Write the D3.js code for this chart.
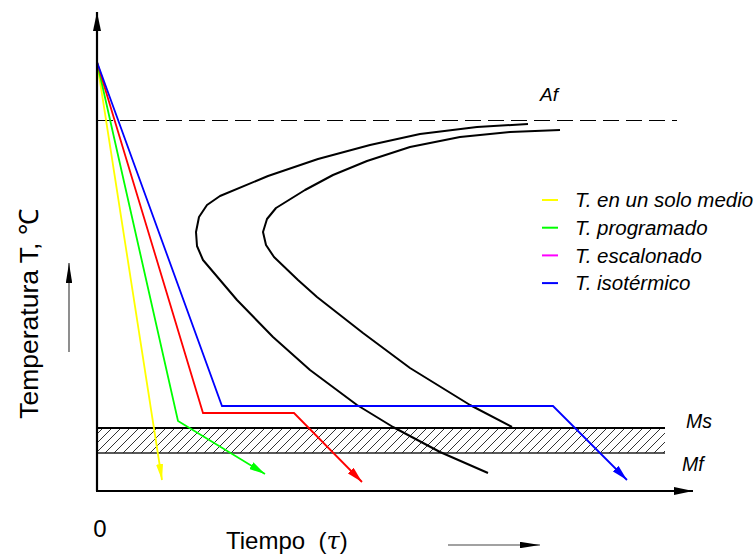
<!DOCTYPE html>
<html>
<head>
<meta charset="utf-8">
<script src="https://cdn.jsdelivr.net/npm/d3@7"></script>
<style>
  html, body { margin: 0; padding: 0; background: #ffffff; }
  svg { display: block; font-family: 'Liberation Sans', Arial, sans-serif; }
</style>
</head>
<body>
<div id="chart"></div>
<script>
// values (time units, temperature units)
const startPoint = [0, 429];
const afLevel = 371;
const msLevel = 63;
const mfLevel = 38;
const afEnd = 580;
const bandEnd = 568;

const yellowPath = [[0, 429], [65, 11]];
const greenPath = [[0, 429], [81, 70], [168, 17]];
const redPath = [[0, 429], [106, 78], [197, 78], [265, 9]];
const bluePath = [[0, 429], [125, 85], [456, 85], [530, 11]];

const startCurve = [
  [431, 367], [380, 364], [323, 357], [273, 346], [221, 332], [171, 315],
  [123, 295], [110, 286], [102, 274], [99, 259], [100, 245], [106, 231],
  [140, 191], [176, 154], [213, 121], [260, 86], [296, 64], [343, 39], [391, 18]
];
const endCurve = [
  [463, 361], [413, 359], [363, 354], [313, 344], [270, 330], [236, 316],
  [208, 301], [179, 283], [170, 272], [166, 259], [169, 246], [177, 234],
  [201, 211], [220, 194], [266, 158], [313, 123], [373, 86], [415, 64]
];

const legendLabels = ['T. en un solo medio', 'T. programado', 'T. escalonado', 'T. isotérmico'];
const legendColors = ['#ffff00', '#00ff00', '#ff00ff', '#0000ff'];

const width = 755, height = 556;

const svg = d3.select('#chart')
  .append('svg')
  .attr('width', width)
  .attr('height', height)
  .attr('viewBox', `0 0 ${width} ${height}`);

const x = d3.scaleLinear().domain([0, 600]).range([97, 697]);
const y = d3.scaleLinear().domain([0, 480]).range([491, 11]);

const defs = svg.append('defs');

function addArrow(id, color, len, hw) {
  defs.append('marker')
    .attr('id', id)
    .attr('markerUnits', 'userSpaceOnUse')
    .attr('viewBox', `0 ${-hw} ${len} ${2 * hw}`)
    .attr('refX', len)
    .attr('refY', 0)
    .attr('markerWidth', len)
    .attr('markerHeight', 2 * hw)
    .attr('orient', 'auto')
    .append('path')
    .attr('d', `M0,${-hw}L${len},0L0,${hw}Z`)
    .attr('fill', color);
}

addArrow('arr-axis', '#000', 19, 4);
addArrow('arr-small', '#000', 20, 3.2);
addArrow('arr-yellow', '#ffff00', 16, 3.5);
addArrow('arr-green', '#00ff00', 16, 4);
addArrow('arr-red', '#ff0000', 16, 4);
addArrow('arr-blue', '#0000ff', 16, 4);

const hatch = defs.append('pattern')
  .attr('id', 'hatch')
  .attr('patternUnits', 'userSpaceOnUse')
  .attr('width', 9)
  .attr('height', 9);
hatch.append('path')
  .attr('d', 'M0,9L9,0M-1,1L1,-1M8,10L10,8')
  .attr('stroke', '#333')
  .attr('stroke-width', 1);

const line = d3.line().x(d => x(d[0])).y(d => y(d[1]));

// Ms - Mf band
svg.append('rect')
  .attr('x', x(0))
  .attr('y', y(msLevel))
  .attr('width', x(bandEnd) - x(0))
  .attr('height', y(mfLevel) - y(msLevel))
  .attr('fill', 'url(#hatch)');

svg.append('path')
  .attr('d', line([[0, msLevel], [bandEnd, msLevel]]))
  .attr('stroke', '#000')
  .attr('stroke-width', 2.2);

svg.append('path')
  .attr('d', line([[0, mfLevel], [bandEnd, mfLevel]]))
  .attr('stroke', '#222')
  .attr('stroke-width', 1.5);

// Af dashed line
svg.append('path')
  .attr('d', line([[0, afLevel], [afEnd, afLevel]]))
  .attr('stroke', '#000')
  .attr('stroke-width', 1)
  .attr('shape-rendering', 'crispEdges')
  .attr('stroke-dasharray', '16,7');

// transformation curves
[startCurve, endCurve].forEach(c => {
  svg.append('path')
    .datum(c)
    .attr('fill', 'none')
    .attr('stroke', '#000')
    .attr('stroke-width', 2)
    .attr('stroke-linejoin', 'round')
    .attr('d', line);
});

// cooling paths
const paths = [
  { data: yellowPath, color: '#ffff00', marker: 'arr-yellow' },
  { data: greenPath, color: '#00ff00', marker: 'arr-green' },
  { data: redPath, color: '#ff0000', marker: 'arr-red' },
  { data: bluePath, color: '#0000ff', marker: 'arr-blue' }
];

svg.append('g')
  .selectAll('path')
  .data(paths)
  .join('path')
  .attr('fill', 'none')
  .attr('stroke', d => d.color)
  .attr('stroke-width', 1.8)
  .attr('d', d => line(d.data))
  .attr('marker-end', d => `url(#${d.marker})`);

// axes
svg.append('path')
  .attr('d', line([[0, 0], [0, 479]]))
  .attr('stroke', '#000')
  .attr('stroke-width', 2.2)
  .attr('marker-end', 'url(#arr-axis)');

svg.append('path')
  .attr('d', line([[-1, 0], [596, 0]]))
  .attr('stroke', '#000')
  .attr('stroke-width', 2.2)
  .attr('marker-end', 'url(#arr-axis)');

// level labels
svg.append('text')
  .attr('x', x(443))
  .attr('y', 101)
  .attr('font-size', 19)
  .attr('font-style', 'italic')
  .text('Af');

svg.append('text')
  .attr('x', 686)
  .attr('y', 428)
  .attr('font-size', 19.5)
  .attr('font-style', 'italic')
  .text('Ms');

svg.append('text')
  .attr('x', 682)
  .attr('y', 471)
  .attr('font-size', 19.5)
  .attr('font-style', 'italic')
  .text('Mf');

// legend
const legend = svg.append('g');
legend.selectAll('line')
  .data(legendLabels)
  .join('line')
  .attr('x1', 542)
  .attr('x2', 558)
  .attr('y1', (d, i) => 200 + i * 27.7)
  .attr('y2', (d, i) => 200 + i * 27.7)
  .attr('stroke', (d, i) => legendColors[i])
  .attr('stroke-width', 2);

legend.selectAll('text')
  .data(legendLabels)
  .join('text')
  .attr('x', 575)
  .attr('y', (d, i) => 200 + i * 27.7)
  .attr('dy', '0.35em')
  .attr('font-size', 20.5)
  .attr('font-style', 'italic')
  .text(d => d);

// axis titles
svg.append('text')
  .attr('x', 100)
  .attr('y', 537)
  .attr('text-anchor', 'middle')
  .attr('font-size', 24)
  .text('0');

const xt = svg.append('text')
  .attr('x', 226)
  .attr('y', 549)
  .attr('font-size', 24)
  .attr('xml:space', 'preserve');
xt.append('tspan').text('Tiempo  (');
xt.append('tspan').attr('font-family', 'DejaVu Serif, serif').attr('font-style', 'italic').text('τ');
xt.append('tspan').text(')');

svg.append('text')
  .attr('transform', 'translate(38,314) rotate(-90)')
  .attr('text-anchor', 'middle')
  .attr('font-size', 26.5)
  .text('Temperatura T, ℃');

svg.append('line')
  .attr('x1', 69).attr('x2', 69)
  .attr('y1', 352).attr('y2', 263)
  .attr('stroke', '#444')
  .attr('stroke-width', 1.2)
  .attr('marker-end', 'url(#arr-small)');

svg.append('line')
  .attr('x1', 448).attr('x2', 540)
  .attr('y1', 545).attr('y2', 545)
  .attr('stroke', '#444')
  .attr('stroke-width', 1.2)
  .attr('marker-end', 'url(#arr-small)');
</script>
</body>
</html>
